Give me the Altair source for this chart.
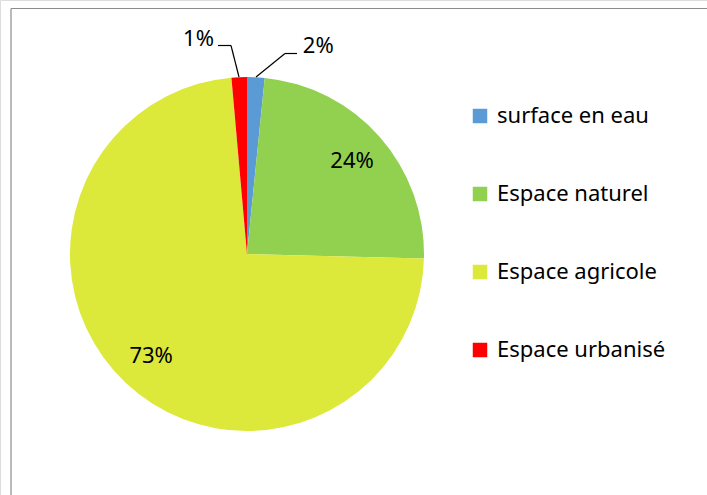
import altair as alt
import pandas as pd

categories = ["surface en eau", "Espace naturel", "Espace agricole", "Espace urbanisé"]
values = [1.6, 23.8, 73.2, 1.4]
colors = ["#5B9BD5", "#92D050", "#DCE83A", "#FF0000"]
labels = [f"{round(v)}%" for v in values]

df = pd.DataFrame({
    "cat": categories,
    "v": values,
    "i": list(range(len(categories))),
    "lbl": labels,
})

CX, CY, R = 247, 254, 177
FONT = "Noto Sans"

base = alt.Chart(df).encode(
    theta=alt.Theta("v:Q", stack=True),
    order=alt.Order("i:Q"),
    x=alt.value(CX),
    y=alt.value(CY),
)

arcs = base.mark_arc(radius=R).encode(
    color=alt.Color(
        "cat:N",
        scale=alt.Scale(domain=categories, range=colors),
        sort=categories,
        legend=alt.Legend(
            title=None,
            orient="none",
            legendX=469,
            legendY=105,
            symbolType="square",
            symbolSize=210,
            symbolStrokeWidth=0,
            labelFont=FONT,
            labelFontSize=22,
            labelColor="#000000",
            labelOffset=6,
            labelLimit=0,
            rowPadding=56,
            padding=0,
        ),
    )
)

inner = base.mark_text(radius=140, font=FONT, fontSize=22, color="#000000").encode(
    text=alt.Text("t:N")
).transform_calculate(t="datum.v > 10 ? datum.lbl : ''")

lbl_red = base.mark_text(radius=215, dx=-39, font=FONT, fontSize=22, color="#000000").encode(
    text=alt.Text("t:N")
).transform_calculate(t="datum.cat == 'Espace urbanisé' ? datum.lbl : ''")

lbl_blue = base.mark_text(radius=205, dx=61, dy=-3, font=FONT, fontSize=22, color="#000000").encode(
    text=alt.Text("t:N")
).transform_calculate(t="datum.cat == 'surface en eau' ? datum.lbl : ''")

# leader lines and frame (annotation segments)
seg_x1 = [218, 231, 285, 256, 11, 11]
seg_y1 = [45.5, 45.5, 53.5, 77, 8.5, 8.5]
seg_x2 = [231, 239, 297, 285, 707, 11]
seg_y2 = [45.5, 77, 53.5, 53.5, 8.5, 495]
seg_c = ["#000000"] * 4 + ["#8C8C8C"] * 2
rules = []
for a, b, c, d, col in zip(seg_x1, seg_y1, seg_x2, seg_y2, seg_c):
    rules.append(
        alt.Chart(pd.DataFrame({"k": [0]})).mark_rule(color=col, strokeWidth=1.2).encode(
            x=alt.value(a), y=alt.value(b), x2=alt.value(c), y2=alt.value(d)
        )
    )

chart = alt.layer(arcs, inner, lbl_red, lbl_blue, *rules).properties(
    width=707, height=495, autosize=alt.AutoSizeParams(type="none"), padding=0
).configure_view(stroke=None).configure(background="white")

chart.save("out.html", embed_options={"renderer": "svg", "actions": False})
